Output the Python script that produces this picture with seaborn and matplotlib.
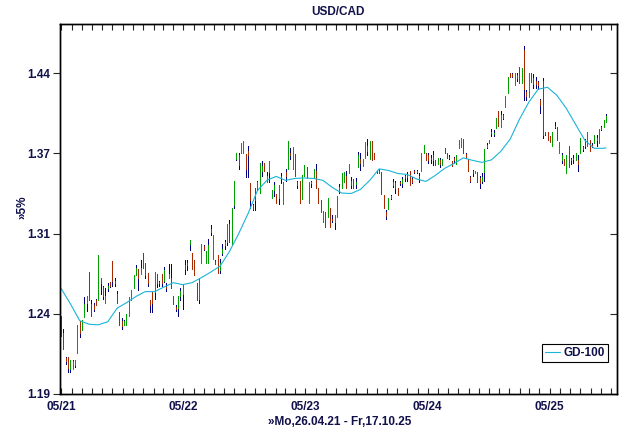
import matplotlib
matplotlib.use("Agg")
import numpy as np
import pandas as pd
import matplotlib.pyplot as plt
import matplotlib.dates as mdates
import matplotlib.ticker as mticker
import seaborn as sns

#%% data : weekly USD/CAD bars (Friday)
first_week = "2021-04-30"

opens = [1.248, 1.235, 1.216, 1.217, 1.208, 1.208, 1.211, 1.220, 1.244, 1.237,
         1.247, 1.258, 1.282, 1.257, 1.256, 1.260, 1.260, 1.277, 1.270, 1.258,
         1.269, 1.274, 1.290, 1.275, 1.265, 1.251, 1.244, 1.241, 1.241, 1.248,
         1.260, 1.269, 1.279, 1.284, 1.280, 1.297, 1.289, 1.281, 1.260, 1.266,
         1.266, 1.280, 1.274, 1.280, 1.275, 1.270, 1.277, 1.277, 1.263, 1.255,
         1.254, 1.263, 1.265, 1.287, 1.289, 1.304, 1.297, 1.291, 1.273, 1.261,
         1.289, 1.302, 1.289, 1.289, 1.316, 1.292, 1.290, 1.295, 1.283, 1.297,
         1.303, 1.305, 1.320, 1.303, 1.335, 1.373, 1.376, 1.378, 1.378, 1.377,
         1.380, 1.353, 1.335, 1.349, 1.349, 1.345, 1.363, 1.370, 1.354, 1.362,
         1.341, 1.347, 1.344, 1.341, 1.359, 1.336, 1.362, 1.365, 1.378, 1.365,
         1.377, 1.354, 1.355, 1.340, 1.359, 1.366, 1.337, 1.353, 1.357, 1.363,
         1.349, 1.339, 1.321, 1.329, 1.325, 1.333, 1.324, 1.321, 1.325, 1.347,
         1.349, 1.354, 1.359, 1.361, 1.355, 1.356, 1.352, 1.366, 1.373, 1.367,
         1.374, 1.384, 1.373, 1.388, 1.378, 1.364, 1.365, 1.362, 1.343, 1.329,
         1.332, 1.341, 1.351, 1.353, 1.349, 1.354, 1.353, 1.359, 1.360, 1.363,
         1.356, 1.363, 1.362, 1.359, 1.363, 1.378, 1.378, 1.376, 1.374, 1.376,
         1.372, 1.369, 1.372, 1.368, 1.382, 1.378, 1.375, 1.371, 1.374, 1.369,
         1.382, 1.383, 1.390, 1.377, 1.373, 1.358, 1.363, 1.361, 1.362, 1.357,
         1.355, 1.362, 1.383, 1.386, 1.396, 1.394, 1.399, 1.414, 1.400, 1.410,
         1.417, 1.429, 1.447, 1.446, 1.436, 1.445, 1.452, 1.438, 1.467, 1.430,
         1.426, 1.447, 1.442, 1.440, 1.439, 1.423, 1.440, 1.396, 1.396, 1.392,
         1.384, 1.401, 1.400, 1.378, 1.372, 1.373, 1.361, 1.384, 1.373, 1.374,
         1.372, 1.372, 1.378, 1.383, 1.389, 1.384, 1.389, 1.385, 1.386, 1.391,
         1.386, 1.400, 1.400, 1.404]

highs = [1.248, 1.238, 1.217, 1.217, 1.215, 1.215, 1.215, 1.241, 1.244, 1.245,
         1.262, 1.263, 1.282, 1.260, 1.258, 1.261, 1.295, 1.277, 1.271, 1.269,
         1.273, 1.274, 1.290, 1.277, 1.267, 1.251, 1.246, 1.245, 1.249, 1.262,
         1.268, 1.279, 1.287, 1.284, 1.291, 1.297, 1.289, 1.281, 1.260, 1.266,
         1.282, 1.280, 1.275, 1.280, 1.286, 1.273, 1.288, 1.288, 1.263, 1.256,
         1.263, 1.269, 1.272, 1.291, 1.291, 1.307, 1.297, 1.291, 1.273, 1.277,
         1.304, 1.303, 1.298, 1.308, 1.319, 1.311, 1.291, 1.295, 1.292, 1.304,
         1.307, 1.320, 1.323, 1.333, 1.355, 1.378, 1.378, 1.386, 1.388, 1.377,
         1.384, 1.353, 1.336, 1.349, 1.355, 1.370, 1.371, 1.370, 1.362, 1.371,
         1.347, 1.354, 1.344, 1.351, 1.361, 1.354, 1.365, 1.388, 1.382, 1.383,
         1.377, 1.355, 1.355, 1.360, 1.368, 1.366, 1.354, 1.355, 1.365, 1.369,
         1.349, 1.339, 1.330, 1.329, 1.341, 1.333, 1.327, 1.327, 1.342, 1.352,
         1.361, 1.362, 1.363, 1.369, 1.358, 1.356, 1.357, 1.379, 1.378, 1.373,
         1.387, 1.390, 1.388, 1.388, 1.378, 1.364, 1.365, 1.362, 1.343, 1.331,
         1.341, 1.343, 1.356, 1.355, 1.349, 1.355, 1.358, 1.360, 1.362, 1.363,
         1.358, 1.364, 1.364, 1.361, 1.378, 1.385, 1.378, 1.378, 1.376, 1.380,
         1.372, 1.374, 1.374, 1.373, 1.382, 1.378, 1.376, 1.371, 1.375, 1.376,
         1.389, 1.391, 1.390, 1.378, 1.373, 1.359, 1.364, 1.363, 1.362, 1.359,
         1.361, 1.381, 1.386, 1.389, 1.398, 1.397, 1.408, 1.414, 1.414, 1.411,
         1.427, 1.443, 1.447, 1.447, 1.447, 1.447, 1.452, 1.451, 1.471, 1.432,
         1.447, 1.447, 1.446, 1.443, 1.440, 1.424, 1.442, 1.396, 1.396, 1.392,
         1.396, 1.404, 1.400, 1.387, 1.378, 1.373, 1.376, 1.384, 1.374, 1.376,
         1.378, 1.376, 1.391, 1.384, 1.390, 1.396, 1.389, 1.386, 1.393, 1.393,
         1.398, 1.401, 1.406, 1.411]

lows = [1.233, 1.223, 1.212, 1.206, 1.206, 1.208, 1.210, 1.220, 1.232, 1.237,
        1.247, 1.252, 1.260, 1.248, 1.252, 1.256, 1.260, 1.265, 1.261, 1.258,
        1.267, 1.270, 1.271, 1.271, 1.258, 1.241, 1.238, 1.241, 1.241, 1.248,
        1.260, 1.269, 1.279, 1.268, 1.280, 1.285, 1.277, 1.271, 1.251, 1.251,
        1.261, 1.270, 1.271, 1.271, 1.274, 1.267, 1.277, 1.269, 1.257, 1.252,
        1.248, 1.260, 1.253, 1.280, 1.283, 1.299, 1.284, 1.279, 1.260, 1.258,
        1.289, 1.299, 1.289, 1.289, 1.311, 1.292, 1.288, 1.281, 1.281, 1.295,
        1.300, 1.303, 1.305, 1.303, 1.333, 1.372, 1.365, 1.378, 1.378, 1.358,
        1.358, 1.333, 1.331, 1.331, 1.347, 1.345, 1.359, 1.363, 1.354, 1.354,
        1.341, 1.342, 1.337, 1.336, 1.353, 1.336, 1.355, 1.365, 1.373, 1.365,
        1.359, 1.349, 1.337, 1.340, 1.359, 1.357, 1.337, 1.350, 1.357, 1.349,
        1.337, 1.329, 1.321, 1.317, 1.325, 1.317, 1.321, 1.316, 1.325, 1.345,
        1.349, 1.354, 1.349, 1.361, 1.349, 1.349, 1.349, 1.366, 1.364, 1.367,
        1.374, 1.376, 1.373, 1.372, 1.373, 1.361, 1.361, 1.344, 1.333, 1.324,
        1.332, 1.340, 1.350, 1.345, 1.343, 1.351, 1.350, 1.355, 1.355, 1.351,
        1.353, 1.361, 1.361, 1.354, 1.363, 1.378, 1.372, 1.370, 1.370, 1.368,
        1.368, 1.369, 1.366, 1.368, 1.378, 1.374, 1.373, 1.367, 1.370, 1.369,
        1.382, 1.383, 1.378, 1.374, 1.363, 1.354, 1.359, 1.361, 1.354, 1.349,
        1.353, 1.355, 1.382, 1.386, 1.392, 1.392, 1.399, 1.401, 1.400, 1.407,
        1.417, 1.429, 1.443, 1.443, 1.436, 1.440, 1.438, 1.438, 1.423, 1.423,
        1.426, 1.439, 1.434, 1.434, 1.433, 1.412, 1.391, 1.393, 1.389, 1.387,
        1.384, 1.399, 1.389, 1.378, 1.370, 1.368, 1.361, 1.366, 1.369, 1.370,
        1.372, 1.363, 1.378, 1.380, 1.382, 1.384, 1.380, 1.383, 1.386, 1.384,
        1.386, 1.397, 1.400, 1.404]

closes = [1.233, 1.223, 1.214, 1.209, 1.215, 1.214, 1.215, 1.241, 1.235, 1.245,
          1.257, 1.263, 1.260, 1.248, 1.253, 1.256, 1.295, 1.273, 1.263, 1.263,
          1.271, 1.271, 1.275, 1.273, 1.258, 1.241, 1.240, 1.244, 1.249, 1.262,
          1.268, 1.279, 1.285, 1.277, 1.285, 1.285, 1.279, 1.273, 1.256, 1.258,
          1.282, 1.273, 1.273, 1.273, 1.283, 1.269, 1.280, 1.269, 1.257, 1.253,
          1.263, 1.267, 1.272, 1.284, 1.287, 1.307, 1.284, 1.279, 1.260, 1.277,
          1.304, 1.300, 1.298, 1.303, 1.313, 1.311, 1.288, 1.281, 1.289, 1.300,
          1.305, 1.320, 1.305, 1.333, 1.355, 1.378, 1.368, 1.386, 1.388, 1.365,
          1.376, 1.339, 1.332, 1.339, 1.354, 1.370, 1.367, 1.363, 1.359, 1.371,
          1.347, 1.351, 1.337, 1.351, 1.357, 1.354, 1.359, 1.388, 1.376, 1.383,
          1.359, 1.351, 1.337, 1.360, 1.368, 1.357, 1.354, 1.354, 1.365, 1.349,
          1.337, 1.329, 1.330, 1.317, 1.341, 1.317, 1.323, 1.327, 1.342, 1.350,
          1.361, 1.362, 1.349, 1.369, 1.351, 1.349, 1.354, 1.376, 1.370, 1.373,
          1.387, 1.380, 1.388, 1.372, 1.373, 1.361, 1.361, 1.344, 1.333, 1.326,
          1.341, 1.342, 1.354, 1.349, 1.343, 1.353, 1.356, 1.357, 1.358, 1.351,
          1.354, 1.362, 1.363, 1.357, 1.378, 1.385, 1.372, 1.372, 1.373, 1.372,
          1.368, 1.374, 1.369, 1.373, 1.378, 1.374, 1.374, 1.367, 1.372, 1.376,
          1.389, 1.391, 1.378, 1.375, 1.363, 1.355, 1.361, 1.363, 1.354, 1.353,
          1.358, 1.381, 1.385, 1.389, 1.395, 1.395, 1.408, 1.401, 1.410, 1.408,
          1.427, 1.443, 1.443, 1.444, 1.447, 1.442, 1.438, 1.451, 1.433, 1.427,
          1.447, 1.439, 1.437, 1.437, 1.436, 1.419, 1.393, 1.394, 1.389, 1.387,
          1.396, 1.400, 1.389, 1.387, 1.376, 1.368, 1.376, 1.366, 1.372, 1.373,
          1.378, 1.369, 1.391, 1.381, 1.384, 1.396, 1.380, 1.384, 1.393, 1.389,
          1.398, 1.398, 1.406, 1.409]

# GD-100 (100 day moving average), read every 4th week
ma_week = list(range(0, 233, 4)) + [233]
ma_val = [1.2690, 1.2572, 1.2443, 1.2416, 1.2412, 1.2435, 1.2538, 1.2580, 1.2627, 1.2665,
          1.2665, 1.2700, 1.2734, 1.2719, 1.2734, 1.2773, 1.2816, 1.2863, 1.2977, 1.3121,
          1.3282, 1.3469, 1.3552, 1.3585, 1.3552, 1.3568, 1.3572, 1.3568, 1.3552, 1.3494,
          1.3448, 1.3444, 1.3477, 1.3552, 1.3647, 1.3634, 1.3609, 1.3601, 1.3564, 1.3543,
          1.3593, 1.3651, 1.3692, 1.3739, 1.3718, 1.3701, 1.3722, 1.3793, 1.3895, 1.4065,
          1.4212, 1.4325, 1.4342, 1.4272, 1.4160, 1.4022, 1.3886, 1.3819, 1.3819, 1.3823]

# 5% grid lines of the y axis and their printed labels
ytick_vals = [1.19 * 1.05 ** k for k in range(5)]
ytick_labels = ["1.19", "1.24", "1.31", "1.37", "1.44"]

#%% colours
c_up = "#00a000"
c_dn = "#a82800"
c_wick = "#000080"
c_ma = "#1ab4d8"
c_txt = "#10104a"

#%% frames
dates = pd.date_range(first_week, periods=len(opens), freq="7D")
df = pd.DataFrame({"date": dates, "open": opens, "high": highs,
                   "low": lows, "close": closes})
ma = pd.DataFrame({"date": dates[ma_week], "GD-100": ma_val})

#%% plot
sns.set_style("ticks")
plt.rcParams["font.family"] = ["Liberation Sans Narrow", "Liberation Sans", "DejaVu Sans"]

fig = plt.figure(figsize=(6.3, 4.3), dpi=100)
ax = fig.add_axes([60 / 630, 36 / 430, 557 / 630, 370 / 430])

up = df["close"] > df["open"]
dn = df["close"] < df["open"]
bw = 0.6   # one pixel wide bars
ax.vlines(df["date"], df["low"], df["high"], color=c_wick, lw=bw, antialiased=False)
ax.vlines(df["date"][up], df["open"][up], df["close"][up], color=c_up, lw=bw, antialiased=False)
ax.vlines(df["date"][dn], df["close"][dn], df["open"][dn], color=c_dn, lw=bw, antialiased=False)

sns.lineplot(data=ma, x="date", y="GD-100", color=c_ma, lw=0.8, ax=ax,
             label="GD-100")

# y axis, 5% log steps
ax.set_yscale("log")
ax.set_ylim(1.19, 1.4905)
ax.yaxis.set_major_locator(mticker.FixedLocator(ytick_vals))
ax.yaxis.set_major_formatter(mticker.FixedFormatter(ytick_labels))
ax.yaxis.set_minor_locator(mticker.NullLocator())
ax.tick_params(axis="y", which="major", direction="out", length=5, width=0.8,
               left=True, right=False, pad=2, labelsize=8.5, labelcolor=c_txt)

# x axis
ax.set_xlim(pd.Timestamp("2021-04-27"), pd.Timestamp("2025-11-19"))
ax.xaxis.set_major_locator(mdates.MonthLocator(bymonth=5))
ax.xaxis.set_major_formatter(mdates.DateFormatter("%m/%y"))
ax.xaxis.set_minor_locator(mdates.MonthLocator())
ax.tick_params(axis="x", which="both", direction="in", length=4, width=0.8,
               top=True, bottom=True, pad=5, labelsize=8.5, labelcolor=c_txt)
for lab in ax.get_xticklabels() + ax.get_yticklabels():
    lab.set_fontweight("bold")

# right side ticks pointing in
axr = ax.twinx()
axr.set_yscale("log")
axr.set_ylim(ax.get_ylim())
axr.yaxis.set_major_locator(mticker.FixedLocator(ytick_vals))
axr.yaxis.set_minor_locator(mticker.NullLocator())
axr.tick_params(axis="y", direction="in", length=5, width=0.8, labelright=False)

for a in (ax, axr):
    for s in a.spines.values():
        s.set_linewidth(1.0)
        s.set_color("black")

ax.set_xlabel("")
ax.set_ylabel("")
fig.text(338 / 630, 1 - 12 / 430, "USD/CAD", ha="center", va="center",
         fontsize=8.5, fontweight="bold", color=c_txt)
fig.text(340 / 630, 1 - 422 / 430, "\u00bbMo,26.04.21 - Fr,17.10.25", ha="center",
         va="center", fontsize=8.5, fontweight="bold", color=c_txt)
fig.text(22 / 630, 1 - 207 / 430, "\u00bb5%", ha="center", va="center", rotation=90,
         fontsize=8.5, fontweight="bold", color=c_txt)

leg = ax.legend(loc="lower right", bbox_to_anchor=(0.984, 0.086), frameon=True,
                fancybox=False, framealpha=1, edgecolor="black", fontsize=8.5,
                handlelength=1.3, handletextpad=0.3, borderpad=0.25,
                borderaxespad=0)
leg.get_frame().set_linewidth(0.8)
for t in leg.get_texts():
    t.set_fontweight("bold")
    t.set_color(c_txt)

fig.savefig("out.png", dpi=100)
